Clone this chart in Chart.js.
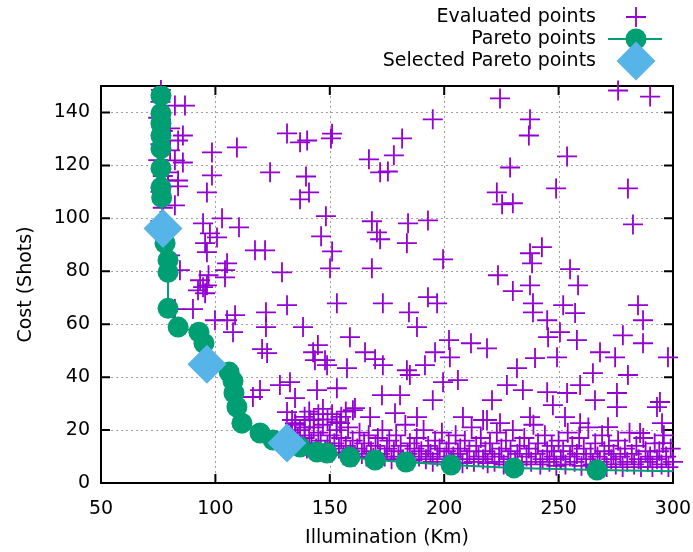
<!DOCTYPE html>
<html>
<head>
<meta charset="utf-8">
<script src="https://cdn.jsdelivr.net/npm/chart.js@4.4.0/dist/chart.umd.min.js"></script>
<style>
  html, body { margin: 0; padding: 0; background: #fff; }
  canvas { display: block; }
</style>
</head>
<body>
<canvas id="chart" width="693" height="552"></canvas>
<script>
// axis ticks
const xTicks = [50, 100, 150, 200, 250, 300];
const yTicks = [0, 20, 40, 60, 80, 100, 120, 140];

// Pareto front (x = illumination, y = cost), ordered along the curve
const paretoX = [76.2, 76.2, 76.2, 76.2, 76.2, 76.2, 76.2, 76.5, 77.1, 78.0, 79.3, 79.3, 79.3, 83.7, 92.8, 95.0, 96.3, 106.0, 107.7, 108.1, 109.4, 111.6, 119.5, 125.2, 131.3, 137.0, 144.4, 148.8, 158.8, 169.8, 183.3, 203.0, 230.5, 266.8, 310.0];
const paretoY = [146.4, 139.6, 135.8, 131.3, 126.4, 118.9, 111.7, 107.9, 96.2, 90.6, 84.2, 79.6, 66.0, 58.9, 57.0, 52.8, 44.9, 41.9, 38.5, 34.0, 28.7, 22.6, 18.9, 16.2, 15.1, 13.6, 11.7, 11.3, 9.8, 8.7, 7.9, 6.8, 5.7, 4.9, 4.3];

// the three selected Pareto points
const selectedX = [77.1, 96.3, 131.3];
const selectedY = [96.2, 44.9, 15.1];

// evaluated points, scattered part
const evaluatedSpread = [
  [76.2,148.5],[76,144],[75,138],[77,133],[76,128],[75,122],[77,116],[76,110],[77,104],[76,99],
  [80.2,134],[82.3,142.6],[83.7,129.4],[80.2,125.7],[82.3,121.9],[79.3,117.4],[79.3,114.3],[83.7,112.1],[82.3,104.9],[80.2,86],[84.5,80.4],
  [86.7,142.6],[85.8,131.3],[98.5,124.9],[109.4,126.8],[123.9,117.4],[131.3,132.1],[140.1,129.4],
  [137,128.7],[151,132],[150.5,130.2],[167.1,122.3],[181.6,130.2],[178,123.8],[172,117.4],[175.4,117.7],[195,137.4],
  [139.6,115.8],[140.9,109.8],[137,107.2],[148.3,100.8],[146.2,93.2],[151,87.5],[150.1,81.1],[168.4,98.9],[170.6,94.7],
  [172,92.1],[184.2,98.1],[192.9,99.2],[183.7,90.6],[199.5,84.5],[168.4,81.1],
  [224.4,145.3],[237.5,137.4],[237,131.3],[253.7,123.4],[228.8,119.2],[223,109.8],[225.3,105.3],[230,105.7],[248.9,111.3],
  [280.3,111.3],[276,148.3],[290,146],[282.5,97.7],[242.7,89.1],[237.5,86.8],[238.4,83],[255,80.8],[223.5,78.5],
  [85.8,121.1],[98.5,116.2],[83.7,114.3],[96.3,109.8],[102.9,100],[94.6,98.1],[110.3,96.6],[97.6,94.3],[100.7,92.8],
  [95.5,90.6],[96.3,87.2],[117.3,87.9],[121.7,87.9],[105.1,83],[104.2,80.4],[97,78.5],
  [94.6,74],[104.2,77.7],[95.5,71.7],[93.3,76.6],[96.3,74.7],[92.4,72.8],[90.2,65.7],[82.3,65.7],[99.8,61.5],[105.1,61.5],
  [108.6,63.4],[107.7,57],[122.1,64.5],[122.1,58.9],[131.3,67.2],[138.3,58.9],[153.1,67.9],[120.4,50.6],[122.6,49.1],
  [144.8,52.1],[142.7,49.4],[147.9,46.4],[157.5,43.4],[158.8,55.1],[128.2,37],[132.6,38.1],[134.8,32.1],[119.5,35.1],
  [116.4,32.5],[144.4,35.1],[153.1,35.8],[161,28.3],[131.3,26.8],[133.5,23.8],[134.8,22.6],[129.1,79.6],
  [173.2,67.9],[184.6,64.5],[192.9,70.2],[196.9,67.9],[188.1,58.9],[202.1,54],[211.7,52.8],[218.7,50.9],[196,49.4],
  [202.5,47.5],[143.5,46.4],[148.8,44.5],[165.4,49.4],[169.8,46.8],[173.2,44.5],[183.7,42.6],[191.6,44.5],[185,40.8],
  [199.5,38.1],[206,38.9],[172.8,33.2],[180.7,33.2],[195,31.3],[220.9,31.3],[160.1,27.5],[167.6,24.9],[178.5,26.4],
  [188.1,24.9],[208.2,24.9],[217,23.8],[154.5,22.6],[141.3,23.8],
  [237.5,74.7],[230,72.5],[258.5,74.7],[238.8,67.9],[238.8,64.5],[252,67.2],[257.2,64.2],[245,61.5],[284.7,67.2],
  [286.9,61.5],[250.6,57],[245.4,55.1],[258,54],[278.1,55.8],[286.9,52.8],[239.7,47.2],[249.3,47.5],[268.1,49.4],
  [274.7,47.5],[297.8,47.5],[231.8,43.4],[227.4,37],[234.4,35.1],[245,34.3],[253.7,34],[259.4,37],[265,41.5],
  [280.3,40.8],[275.5,34],[265.9,31.3],[247.5,29.4],[275.5,28.7],[293,28.7],[294.3,30.6],[218.7,23.8],[224.4,22.6],
  [237.5,24.9],[252.8,24.9],[259.4,22.6],[271.6,21.1],[285.6,18.9],[295.2,22.6],[295.6,15.1],
  [137,20],[139,25],[141,27],[143,21],[145,26],[147,28],[149,24],[151,26],[153,23],[155,25],[157,27],[135,22],[133,19],[139,17]
];

// evaluated points, dense band just above the front
const evaluatedBand = [
  [136,17],[138,14],[139,21],[140,13],[141,18],[142,15],[143,24],[144,13],[145,19],[146,16],[147,22],[148,12.5],[149,14],[150,18],
  [151,11.5],[152,15],[153,20],[154,13],[155,17],[156,10.5],[157,14],[158,21],[159,12],[160,16],[161,10],[162,13],[163,19],
  [164,11],[165,15],[166,10],[167,18],[168,12],[169,9.5],[170,14],[171,17],[172,11],[173,20],[174,10],[175,13],
  [176,16],[177,9],[178,12],[179,18],[180,10],[181,14],[182,9],[183,22],[184,11],[185,15],[186,8.5],[187,13],[188,17],
  [189,10],[190,12],[191,20],[192,9],[193,14],[194,11],[195,8],[196,16],[197,10],[198,13],[199,19],[200,9],
  [201,12],[202,15],[203,8],[204,10],[205,18],[206,11],[207,13],[208,7.5],[209,16],[210,9],[211,12],[212,21],[213,8],
  [214,14],[215,10],[216,17],[217,9],[218,12],[219,7.5],[220,15],[221,11],[222,8],[223,19],[224,10],[225,13],
  [226,7],[227,16],[228,9],[229,12],[230,20],[231,8],[232,11],[233,14],[234,7],[235,17],[236,10],[237,13],[238,8],
  [239,22],[240,11],[241,15],[242,7],[243,9],[244,18],[245,12],[246,8],[247,14],[248,10],[249,6.5],[250,16],
  [251,9],[252,12],[253,7],[254,19],[255,10],[256,14],[257,8],[258,11],[259,17],[260,6.5],[261,13],[262,9],[263,21],
  [264,11],[265,7],[266,15],[267,10],[268,8],[269,18],[270,12],[271,6],[272,14],[273,9],[274,11],[275,7],
  [276,16],[277,10],[278,6],[279,13],[280,8],[281,19],[282,11],[283,7],[284,14],[285,9],[286,6],[287,17],[288,12],
  [289,8],[290,10],[291,6],[292,15],[293,9],[294,12],[295,7],[296,18],[297,10],[298,6],[299,13],[300,8]
];

const PURPLE = "#9400d3", GREEN = "#009e73", BLUE = "#56b4e9";
const FONT = "DejaVu Sans";
const CROSS_W = 1.8;

const legendItems = ["Evaluated points", "Pareto points", "Selected Pareto points"];

// grid, frame and inward ticks, gnuplot style
const framePlugin = {
  id: "frame",
  beforeDatasetsDraw(chart) {
    const {ctx, chartArea: a, scales: {x, y}} = chart;
    ctx.save();
    ctx.strokeStyle = "#a0a0a0";
    ctx.lineWidth = 1;
    ctx.setLineDash([2, 3]);
    xTicks.forEach(v => {
      const px = Math.round(x.getPixelForValue(v)) + 0.5;
      ctx.beginPath(); ctx.moveTo(px, a.top); ctx.lineTo(px, a.bottom); ctx.stroke();
    });
    yTicks.forEach(v => {
      const py = Math.round(y.getPixelForValue(v)) + 0.5;
      ctx.beginPath(); ctx.moveTo(a.left, py); ctx.lineTo(a.right, py); ctx.stroke();
    });
    ctx.setLineDash([]);
    ctx.strokeStyle = "#000";
    ctx.lineWidth = 2;
    ctx.strokeRect(a.left, a.top, a.right - a.left, a.bottom - a.top);
    const t = 9;
    ctx.beginPath();
    xTicks.forEach(v => {
      const px = x.getPixelForValue(v);
      ctx.moveTo(px, a.bottom); ctx.lineTo(px, a.bottom - t);
      ctx.moveTo(px, a.top); ctx.lineTo(px, a.top + t);
    });
    yTicks.forEach(v => {
      const py = y.getPixelForValue(v);
      ctx.moveTo(a.left, py); ctx.lineTo(a.left + t, py);
      ctx.moveTo(a.right, py); ctx.lineTo(a.right - t, py);
    });
    ctx.stroke();
    ctx.restore();
  }
};

// key in the top right corner: text right aligned, sample on its right
const keyPlugin = {
  id: "key",
  afterDraw(chart) {
    const {ctx} = chart;
    const textRight = 596, sx = 636;
    const rows = [17, 39, 61];
    ctx.save();
    ctx.font = "19px '" + FONT + "'";
    ctx.fillStyle = "#000";
    ctx.textAlign = "right";
    ctx.textBaseline = "middle";
    legendItems.forEach((txt, i) => ctx.fillText(txt, textRight, rows[i]));

    ctx.strokeStyle = PURPLE;
    ctx.lineWidth = CROSS_W;
    ctx.beginPath();
    ctx.moveTo(sx - 10, rows[0]); ctx.lineTo(sx + 10, rows[0]);
    ctx.moveTo(sx, rows[0] - 10); ctx.lineTo(sx, rows[0] + 10);
    ctx.stroke();

    ctx.strokeStyle = GREEN;
    ctx.lineWidth = 2;
    ctx.beginPath(); ctx.moveTo(sx - 28, rows[1]); ctx.lineTo(sx + 26, rows[1]); ctx.stroke();
    ctx.fillStyle = GREEN;
    ctx.beginPath(); ctx.arc(sx, rows[1], 10.5, 0, Math.PI * 2); ctx.fill();

    ctx.fillStyle = BLUE;
    const r = 19.5;
    ctx.beginPath();
    ctx.moveTo(sx - r, rows[2]); ctx.lineTo(sx, rows[2] - r);
    ctx.lineTo(sx + r, rows[2]); ctx.lineTo(sx, rows[2] + r);
    ctx.closePath(); ctx.fill();
    ctx.restore();
  }
};

const toPts = (xs, ys) => xs.map((v, i) => ({x: v, y: ys[i]}));
const evaluated = evaluatedSpread.concat(evaluatedBand).map(p => ({x: p[0], y: p[1]}));

new Chart(document.getElementById("chart"), {
  type: "scatter",
  data: {
    datasets: [
      {
        label: legendItems[2],
        data: toPts(selectedX, selectedY),
        pointStyle: "rectRot",
        pointRadius: 19.5,
        pointHoverRadius: 19.5,
        pointBackgroundColor: BLUE,
        pointBorderWidth: 0,
        order: 1
      },
      {
        label: legendItems[1],
        data: toPts(paretoX, paretoY),
        showLine: true,
        borderColor: GREEN,
        borderWidth: 2,
        pointStyle: "circle",
        pointRadius: 10.5,
        pointHoverRadius: 10.5,
        pointBackgroundColor: GREEN,
        pointBorderWidth: 0,
        order: 2
      },
      {
        label: legendItems[0],
        data: evaluated,
        pointStyle: "cross",
        pointRadius: 10,
        pointHoverRadius: 10,
        pointBorderColor: PURPLE,
        pointBorderWidth: CROSS_W,
        clip: false,
        order: 3
      }
    ]
  },
  options: {
    responsive: false,
    animation: false,
    devicePixelRatio: 1,
    events: [],
    layout: {padding: {top: 86, right: 20, left: 0, bottom: 0}},
    plugins: {legend: {display: false}, tooltip: {enabled: false}},
    scales: {
      x: {
        type: "linear",
        min: 50, max: 300,
        afterBuildTicks: s => { s.ticks = xTicks.map(v => ({value: v})); },
        afterFit: s => { s.height = 69; s.paddingLeft = 0; s.paddingRight = 0; },
        grid: {display: false, drawTicks: false},
        border: {display: false},
        ticks: {color: "#000", font: {family: FONT, size: 19}, padding: 15, maxRotation: 0, autoSkip: false},
        title: {display: true, text: "Illumination (Km)", color: "#000", font: {family: FONT, size: 19}, padding: {top: 0, bottom: 3}}
      },
      y: {
        type: "linear",
        min: 0, max: 150,
        afterBuildTicks: s => { s.ticks = yTicks.map(v => ({value: v})); },
        afterFit: s => { s.width = 101; s.paddingTop = 0; s.paddingBottom = 0; },
        grid: {display: false, drawTicks: false},
        border: {display: false},
        ticks: {color: "#000", font: {family: FONT, size: 19}, padding: 11, autoSkip: false},
        title: {display: true, text: "Cost (Shots)", color: "#000", font: {family: FONT, size: 19}, padding: {top: 15, bottom: 0}}
      }
    }
  },
  plugins: [framePlugin, keyPlugin]
});
</script>
</body>
</html>
